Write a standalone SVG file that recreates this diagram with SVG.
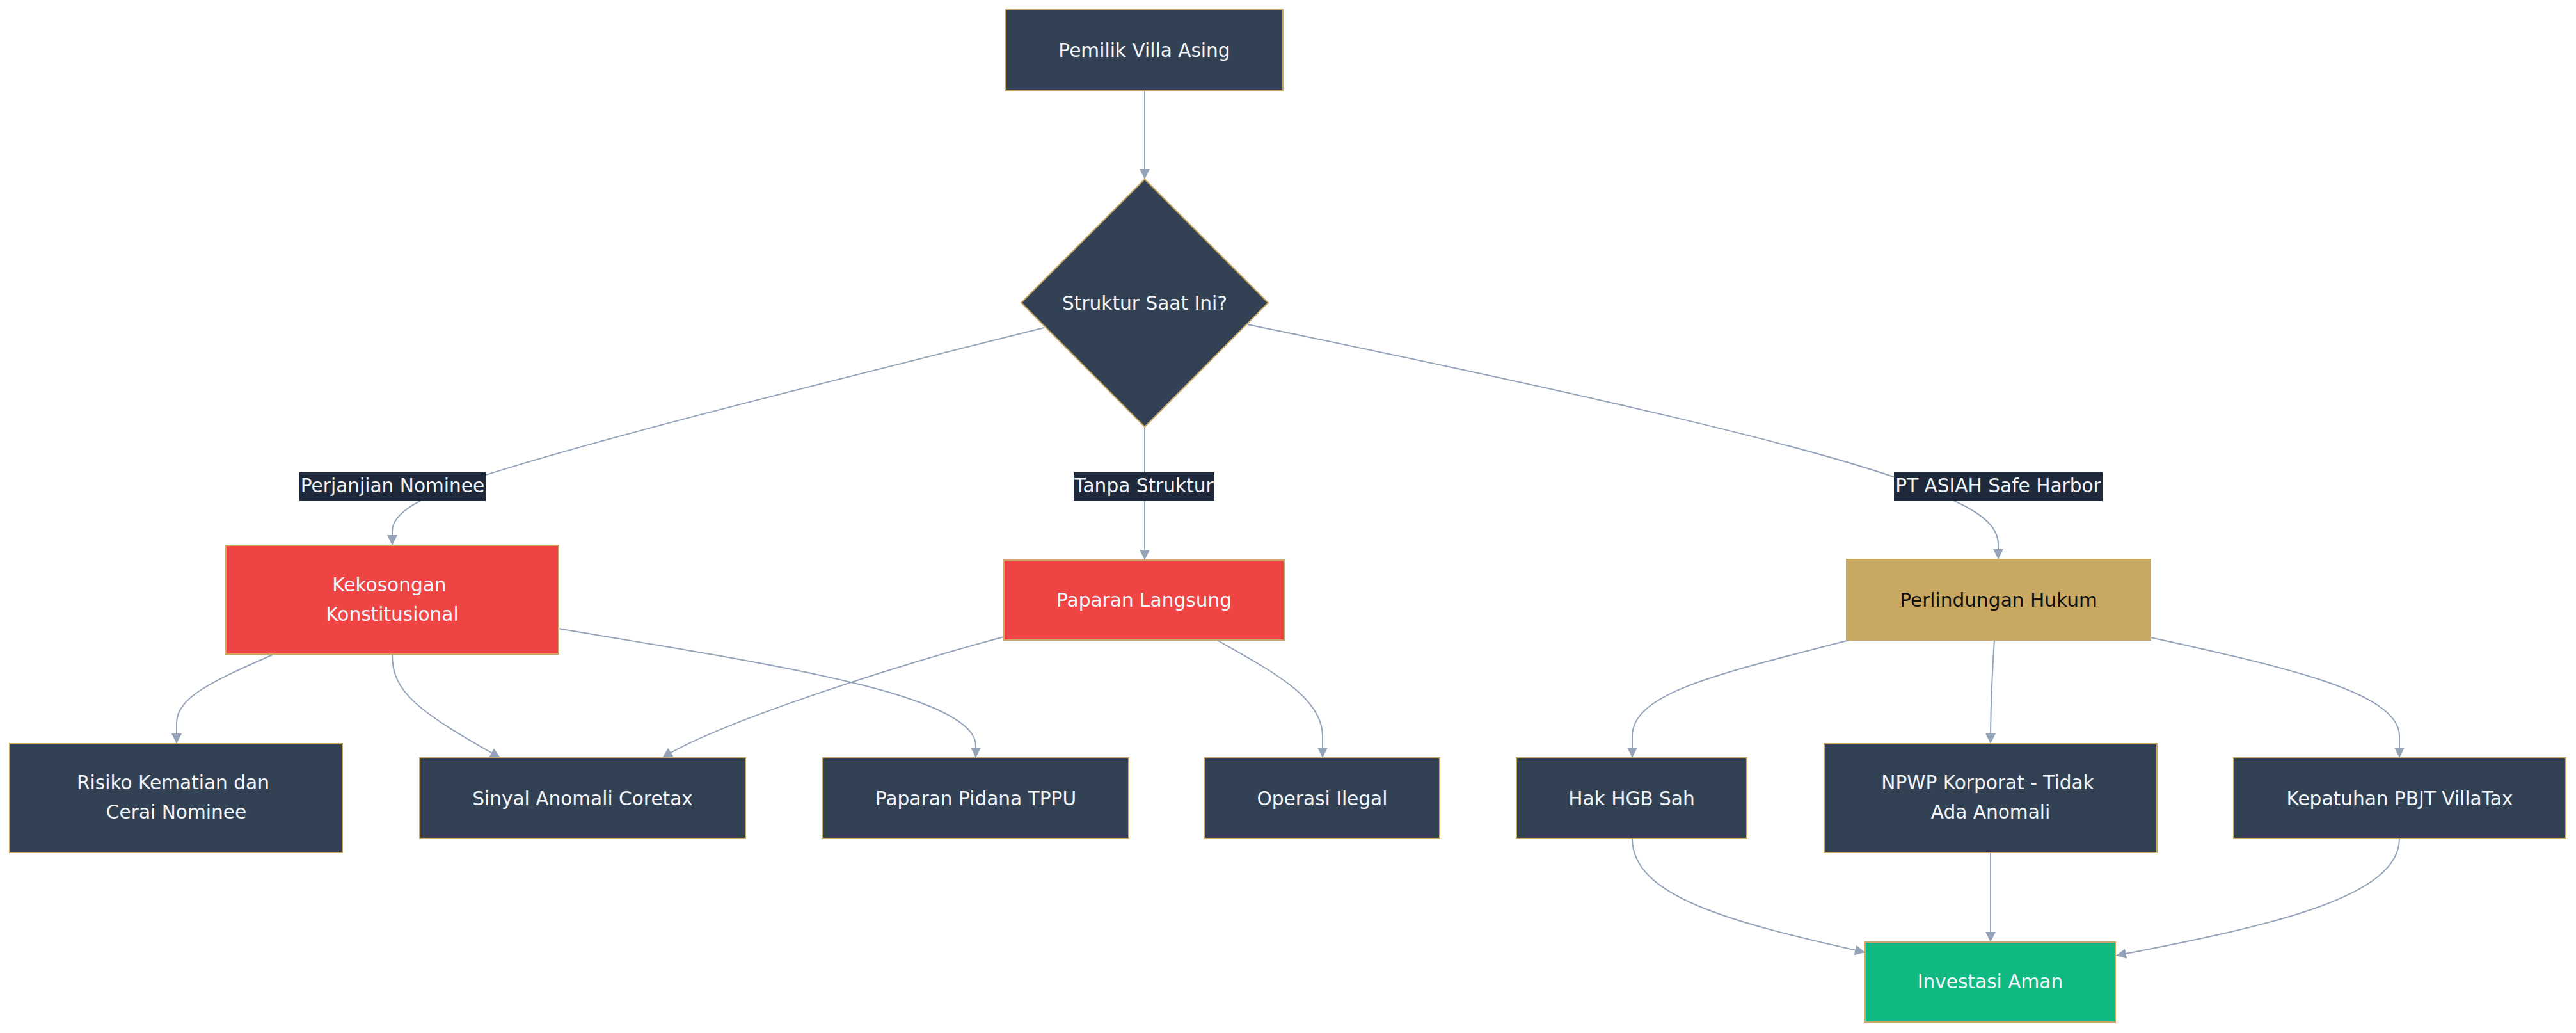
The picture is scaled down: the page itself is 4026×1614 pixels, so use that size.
<svg xmlns="http://www.w3.org/2000/svg" width="4026" height="1614" viewBox="0 0 4026 1614">
<style>
.bg{fill:#ffffff}
.nd{fill:#334155;stroke:#C9A862;stroke-width:2}
.red{fill:#EF4444;stroke:#C9A862;stroke-width:2}
.gold{fill:#C9A862;stroke:#C9A862;stroke-width:2}
.green{fill:#10B981;stroke:#C9A862;stroke-width:2}
.t{font-family:"DejaVu Sans","Noto Sans",sans-serif;font-size:29.6px;fill:#F1F5F9;text-anchor:middle}
.dk{fill:#111111}
.e{fill:none;stroke:#94A3B8;stroke-width:2}
.lb{fill:#1E293B}
</style>
<defs>
<marker id="ah" viewBox="0 0 10 10" refX="10" refY="5" markerWidth="16" markerHeight="16" markerUnits="userSpaceOnUse" orient="auto">
<path d="M0,0 L10,5 L0,10 z" fill="#94A3B8"/>
</marker>
</defs>
<rect class="bg" x="0" y="0" width="4026" height="1614"/>
<g id="connectors">
<path class="e" d="M1789,141 L1789,280" marker-end="url(#ah)"/>
<path class="e" d="M1632,512 C1200,620 880,700 720,755 C660,778 613,800 613,830 L613,852" marker-end="url(#ah)"/>
<path class="e" d="M1789,667 L1789,875" marker-end="url(#ah)"/>
<path class="e" d="M1950,507 C2450,610 2850,700 3000,760 C3080,790 3123,815 3123,850 L3123,874" marker-end="url(#ah)"/>
<path class="e" d="M426,1023 C330,1065 276,1090 276,1130 L276,1162" marker-end="url(#ah)"/>
<path class="e" d="M613,1023 C613,1080 650,1110 782,1184" marker-end="url(#ah)"/>
<path class="e" d="M873,982 C1150,1030 1525,1080 1525,1165 L1525,1184" marker-end="url(#ah)"/>
<path class="e" d="M1569,995 C1400,1040 1120,1130 1035,1184" marker-end="url(#ah)"/>
<path class="e" d="M1902,1000 C1990,1050 2067,1090 2067,1150 L2067,1184" marker-end="url(#ah)"/>
<path class="e" d="M2890,1000 C2700,1050 2551,1080 2551,1150 L2551,1184" marker-end="url(#ah)"/>
<path class="e" d="M3117,1000 C3113,1060 3111,1100 3111,1162" marker-end="url(#ah)"/>
<path class="e" d="M3361,996 C3560,1040 3750,1080 3750,1150 L3750,1184" marker-end="url(#ah)"/>
<path class="e" d="M2551,1310 C2551,1400 2700,1440 2915,1488" marker-end="url(#ah)"/>
<path class="e" d="M3111,1332 L3111,1472" marker-end="url(#ah)"/>
<path class="e" d="M3750,1310 C3750,1400 3560,1445 3307,1493" marker-end="url(#ah)"/>
<g id="edge-labels">
<rect class="lb" x="468" y="738" width="291" height="45"/>
<text class="t" x="613.5" y="769">Perjanjian Nominee</text>
<rect class="lb" x="1678" y="738" width="220" height="45"/>
<text class="t" x="1788" y="769">Tanpa Struktur</text>
<rect class="lb" x="2960" y="737.5" width="326" height="45.5"/>
<text class="t" x="3123" y="769">PT ASIAH Safe Harbor</text>
</g>
</g>
<g id="n_pemilik">
<rect class="nd" x="1572" y="15" width="433" height="126"/>
<text class="t" x="1788.5" y="89">Pemilik Villa Asing</text>
</g>
<g id="n_struktur">
<polygon class="nd" points="1789,280 1982,473 1789,667 1596,473"/>
<text class="t" x="1789" y="483.5">Struktur Saat Ini?</text>
</g>
<g id="n_kekosongan">
<rect class="red" x="353" y="852" width="520" height="170"/>
<text class="t" x="608.5" y="924">Kekosongan</text>
<text class="t" x="613" y="970">Konstitusional</text>
</g>
<g id="n_paparan">
<rect class="red" x="1569" y="875" width="438" height="125"/>
<text class="t" x="1788" y="947.5">Paparan Langsung</text>
</g>
<g id="n_perlindungan">
<rect class="gold" x="2886" y="874" width="475" height="126"/>
<text class="t dk" x="3123.5" y="947.5">Perlindungan Hukum</text>
</g>
<g id="n_risiko">
<rect class="nd" x="15" y="1162" width="520" height="170"/>
<text class="t" x="270.5" y="1233">Risiko Kematian dan</text>
<text class="t" x="275.5" y="1279">Cerai Nominee</text>
</g>
<g id="n_sinyal">
<rect class="nd" x="656" y="1184" width="509" height="126"/>
<text class="t" x="910.5" y="1258">Sinyal Anomali Coretax</text>
</g>
<g id="n_tppu">
<rect class="nd" x="1286" y="1184" width="478" height="126"/>
<text class="t" x="1525" y="1258">Paparan Pidana TPPU</text>
</g>
<g id="n_operasi">
<rect class="nd" x="1883" y="1184" width="367" height="126"/>
<text class="t" x="2066.5" y="1258">Operasi Ilegal</text>
</g>
<g id="n_hgb">
<rect class="nd" x="2370" y="1184" width="360" height="126"/>
<text class="t" x="2550" y="1258">Hak HGB Sah</text>
</g>
<g id="n_npwp">
<rect class="nd" x="2851" y="1162" width="520" height="170"/>
<text class="t" x="3106.5" y="1233">NPWP Korporat - Tidak</text>
<text class="t" x="3111" y="1279">Ada Anomali</text>
</g>
<g id="n_kepatuhan">
<rect class="nd" x="3491" y="1184" width="519" height="126"/>
<text class="t" x="3750.5" y="1258">Kepatuhan PBJT VillaTax</text>
</g>
<g id="n_investasi">
<rect class="green" x="2915" y="1472" width="391" height="125"/>
<text class="t" x="3110.5" y="1544">Investasi Aman</text>
</g>
</svg>
